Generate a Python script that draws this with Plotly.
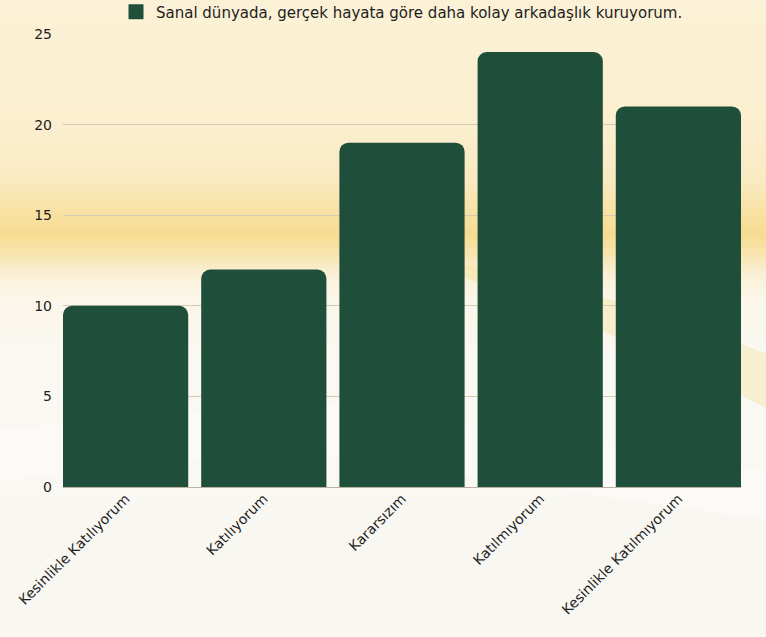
import plotly.graph_objects as go

# Survey answers and counts
categories = [
    "Kesinlikle Katılıyorum",
    "Katılıyorum",
    "Kararsızım",
    "Katılmıyorum",
    "Kesinlikle Katılmıyorum",
]
counts = [10, 12, 19, 24, 21]
series_name = "Sanal dünyada, gerçek hayata göre daha kolay arkadaşlık kuruyorum."
y_ticks = [0, 5, 10, 15, 20, 25]

BAR_COLOR = "#1f4e3a"
FONT = "DejaVu Sans"

W, H = 766, 637
ML, MR, MT, MB = 63, 25, 34, 150
PW, PH = W - ML - MR, H - MT - MB


def px_x(px):
    """Figure pixel x -> paper x."""
    return (px - ML) / PW


def px_y(py):
    """Figure pixel y (from top) -> paper y."""
    return (H - MB - py) / PH


fig = go.Figure()
fig.add_trace(go.Bar(
    x=list(range(len(categories))),
    y=counts,
    name=series_name,
    marker=dict(color=BAR_COLOR, line=dict(width=0)),
    showlegend=False,
    width=0.906,
))
# Legend entry drawn as a larger square swatch
fig.add_trace(go.Scatter(
    x=[None], y=[None], mode="markers", name=series_name,
    marker=dict(symbol="square", size=15, color=BAR_COLOR),
    showlegend=True,
))

# Soft cream-to-white vertical background wash (pixel row, colour)
stops = [
    (0, "#fbf1d6"), (120, "#fbefd0"), (180, "#faeac2"), (212, "#f8e2a4"),
    (235, "#f6dc92"), (255, "#f8e5b0"), (275, "#faf0d6"), (300, "#fbf6ea"),
    (360, "#faf8f2"), (637, "#f8f7f2"),
]


def hex_rgb(c):
    return [int(c[k:k + 2], 16) for k in (1, 3, 5)]


shapes = []
step = 4
for py in range(0, H, step):
    ym = py + step / 2
    for (ya, ca), (yb, cb) in zip(stops, stops[1:]):
        if ya <= ym <= yb:
            t = (ym - ya) / (yb - ya)
            a, b = hex_rgb(ca), hex_rgb(cb)
            col = "#%02x%02x%02x" % tuple(round(a[j] + (b[j] - a[j]) * t) for j in range(3))
            break
    shapes.append(dict(
        type="rect", xref="paper", yref="paper",
        x0=px_x(-2), x1=px_x(W + 2),
        y0=px_y(py + step + 0.5), y1=px_y(py - 0.5),
        fillcolor=col, line=dict(width=0), layer="below",
    ))


def path_from_px(points):
    parts = []
    for i, (x, y) in enumerate(points):
        parts.append(("M" if i == 0 else "L") + f" {px_x(x):.4f},{px_y(y):.4f}")
    return " ".join(parts) + " Z"


# Golden streak sweeping down on the right-hand side
streak = [(420, 255), (560, 285), (680, 320), (770, 355), (770, 410),
          (700, 375), (600, 330), (470, 280)]
shapes.append(dict(
    type="path", xref="paper", yref="paper", layer="below",
    path=path_from_px(streak), fillcolor="#f6d985", opacity=0.3, line=dict(width=0),
))
# Light sweep in the lower area
sweep = [(0, 430), (300, 400), (766, 470), (766, 520), (300, 450), (0, 480)]
shapes.append(dict(
    type="path", xref="paper", yref="paper", layer="below",
    path=path_from_px(sweep), fillcolor="#ffffff", opacity=0.35, line=dict(width=0),
))

fig.update_layout(
    width=W,
    height=H,
    margin=dict(l=ML, r=MR, t=MT, b=MB, autoexpand=False),
    paper_bgcolor="#f8f7f2",
    plot_bgcolor="rgba(0,0,0,0)",
    font=dict(family=FONT, size=14, color="#1e1e1e"),
    barcornerradius=9,
    shapes=shapes,
    legend=dict(
        orientation="h", x=0.5, xanchor="center", y=px_y(12), yanchor="middle",
        font=dict(size=15, color="#1e1e1e"), bgcolor="rgba(0,0,0,0)",
        itemwidth=30,
    ),
    xaxis=dict(
        range=[-0.453, 4.453],
        tickvals=list(range(len(categories))), ticktext=categories,
        tickangle=-45, showgrid=False, showline=False, ticks="",
        tickfont=dict(size=14),
    ),
    yaxis=dict(
        range=[0, 25], tickvals=y_ticks, showgrid=True, gridcolor="#d6cab0",
        gridwidth=1, zeroline=True, zerolinecolor="#b9b2a4", zerolinewidth=1,
        ticks="", tickfont=dict(size=14), ticklabelstandoff=10,
    ),
)

fig.write_html("out.html")
